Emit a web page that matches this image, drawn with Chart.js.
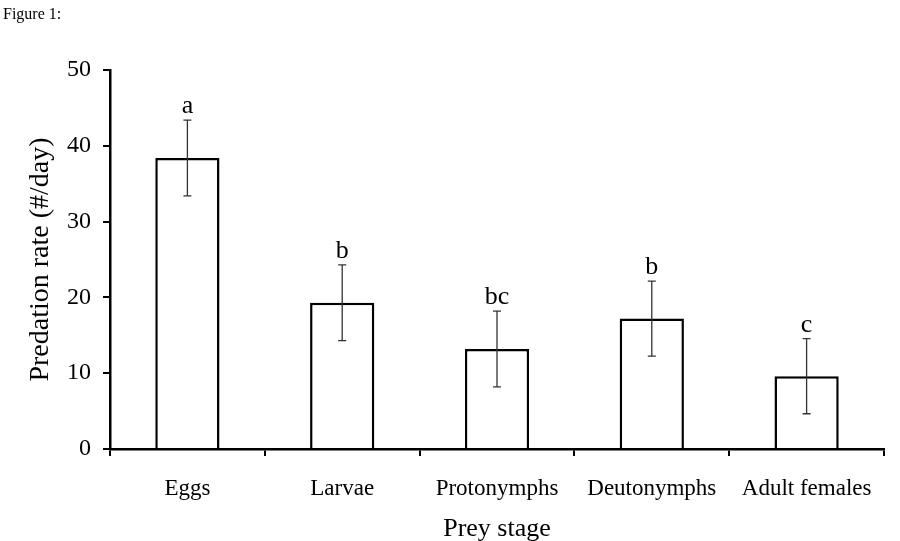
<!DOCTYPE html>
<html>
<head>
<meta charset="utf-8">
<script src="https://cdn.jsdelivr.net/npm/chart.js@4"></script>
<style>
  html, body { margin: 0; padding: 0; background: #fff; }
  #wrap { position: relative; width: 900px; height: 541px; }
  #fig { position: absolute; left: 3px; top: 6px; font: 16px/1 "Liberation Serif", serif; color: #000; }
</style>
</head>
<body>
<div id="wrap">
  <div id="fig">Figure 1:</div>
  <canvas id="myChart" width="900" height="541"></canvas>
</div>
<script>
const stages = ['Eggs', 'Larvae', 'Protonymphs', 'Deutonymphs', 'Adult females'];
const rates = [38.4, 19.3, 13.2, 17.2, 9.6];
const errors = [5.0, 5.0, 5.0, 4.95, 4.95];
const letters = ['a', 'b', 'bc', 'b', 'c'];
const yTicks = [0, 10, 20, 30, 40, 50];

const serif = '"Liberation Serif", "Times New Roman", serif';

// error bars + significance letters
const extras = {
  id: 'extras',
  afterDatasetsDraw(chart) {
    const ctx = chart.ctx;
    const y = chart.scales.y;
    const meta = chart.getDatasetMeta(0);
    ctx.save();
    meta.data.forEach((bar, i) => {
      const x = bar.x;
      const top = y.getPixelForValue(rates[i] + errors[i]);
      const bot = y.getPixelForValue(rates[i] - errors[i]);
      ctx.strokeStyle = '#333';
      ctx.lineWidth = 1.3;
      ctx.beginPath();
      ctx.moveTo(x, top); ctx.lineTo(x, bot);
      ctx.moveTo(x - 4, top); ctx.lineTo(x + 4, top);
      ctx.moveTo(x - 4, bot); ctx.lineTo(x + 4, bot);
      ctx.stroke();
      ctx.fillStyle = '#000';
      ctx.font = '26px ' + serif;
      ctx.textAlign = 'center';
      ctx.textBaseline = 'alphabetic';
      ctx.fillText(letters[i], x, top - 7);
    });
    ctx.restore();
  }
};

const config = {
  type: 'bar',
  data: {
    labels: stages,
    datasets: [{
      data: rates,
      backgroundColor: '#fff',
      borderColor: '#000',
      borderWidth: 2.5,
      borderSkipped: 'bottom',
      barPercentage: 0.415,
      categoryPercentage: 1.0
    }]
  },
  options: {
    responsive: false,
    animation: false,
    layout: { padding: { top: 70, right: 16, left: 0, bottom: 0 } },
    plugins: { legend: { display: false }, tooltip: { enabled: false } },
    scales: {
      x: {
        grid: { display: true, drawOnChartArea: false, offset: true, color: '#000', lineWidth: 2, tickLength: 7 },
        border: { display: true, color: '#000', width: 2.5 },
        ticks: { color: '#000', font: { family: serif, size: 23 }, padding: 19, maxRotation: 0, autoSkip: false },
        title: { display: true, text: 'Prey stage', color: '#000', font: { family: serif, size: 26, lineHeight: 0.9 }, padding: { top: 0, bottom: 0 } },
        afterFit(s) { s.height = 92; }
      },
      y: {
        min: 0, max: 50,
        afterBuildTicks(s) { s.ticks = yTicks.map(v => ({ value: v })); },
        grid: { display: true, drawOnChartArea: false, color: '#000', lineWidth: 2, tickLength: 7 },
        border: { display: true, color: '#000', width: 2.5 },
        ticks: { color: '#000', font: { family: serif, size: 24 }, padding: 12 },
        title: { display: true, text: 'Predation rate (#/day)', color: '#000', font: { family: serif, size: 28 }, padding: { top: 24, bottom: 0 } },
        afterFit(s) { s.width = 110; }
      }
    }
  },
  plugins: [extras]
};

const myChart = new Chart(document.getElementById('myChart'), config);
</script>
</body>
</html>
